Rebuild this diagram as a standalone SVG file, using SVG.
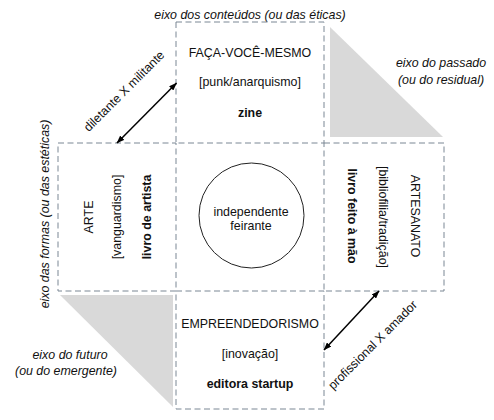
<svg xmlns="http://www.w3.org/2000/svg" width="494" height="420" viewBox="0 0 494 420">
<defs>
<style>
text{font-family:"Liberation Sans",Arial,sans-serif;font-size:12.4px;fill:#111;}
.b{font-weight:bold;}
.i{font-style:italic;}
.m{text-anchor:middle;}
.box{fill:none;stroke:#7a8794;stroke-width:1;stroke-dasharray:6 3.5;}
.tri{fill:#d9d9d9;stroke:none;}
.arr{stroke:#000;stroke-width:1.5;fill:none;marker-start:url(#ah);marker-end:url(#ah);}
</style>
<marker id="ah" viewBox="0 0 8 6" refX="7.5" refY="3" markerWidth="8" markerHeight="6" markerUnits="userSpaceOnUse" orient="auto-start-reverse">
<path d="M0,0 L8,3 L0,6 z" fill="#000"/>
</marker>
</defs>
<rect width="494" height="420" fill="#fff"/>

<g id="axes">
<polygon class="tri" points="330,27 330,137 443,137"/>
<polygon class="tri" points="60,295 173,295 173,407"/>
<text class="i m" x="250" y="18.5">eixo dos conteúdos (ou das éticas)</text>
<text class="i m" x="441" y="67">eixo do passado</text>
<text class="i m" x="441" y="84">(ou do residual)</text>
<text class="i m" x="70" y="358.5">eixo do futuro</text>
<text class="i m" x="66" y="374.5">(ou do emergente)</text>
<text class="i m" transform="translate(49,214) rotate(-90)">eixo das formas (ou das estéticas)</text>
</g>

<g id="node-top">
<rect class="box" x="176" y="22" width="148" height="121"/>
<text class="m" x="250" y="56.5">FAÇA-VOCÊ-MESMO</text>
<text class="m" x="250" y="86">[punk/anarquismo]</text>
<text class="m b" x="250" y="117">zine</text>
</g>

<g id="node-left">
<rect class="box" x="58" y="143" width="118" height="148"/>
<text class="m" transform="translate(92.5,217) rotate(-90)">ARTE</text>
<text class="m" transform="translate(121,217) rotate(-90)">[vanguardismo]</text>
<text class="m b" transform="translate(151,217) rotate(-90)">livro de artista</text>
</g>

<g id="node-right">
<rect class="box" x="324" y="143" width="120" height="148"/>
<text class="m b" transform="translate(347.5,216) rotate(90)">livro feito à mão</text>
<text class="m" transform="translate(379,217) rotate(90)">[bibliofilia/tradição]</text>
<text class="m" transform="translate(410.5,216) rotate(90)">ARTESANATO</text>
</g>

<g id="node-bottom">
<rect class="box" x="176" y="291" width="148" height="118"/>
<text class="m" x="250" y="327.5">EMPREENDEDORISMO</text>
<text class="m" x="250" y="357.5">[inovação]</text>
<text class="m b" x="250" y="387.5">editora startup</text>
</g>

<g id="node-center">
<circle cx="251.5" cy="215.5" r="52.5" fill="none" stroke="#222" stroke-width="1"/>
<text class="m" x="251" y="215.5">independente</text>
<text class="m" x="251" y="229.5">feirante</text>
</g>

<g id="connectors">
<line class="arr" x1="117" y1="143" x2="176.5" y2="83"/>
<text class="m" transform="translate(127,94) rotate(-45)">diletante X militante</text>
<line class="arr" x1="324" y1="350" x2="379" y2="291"/>
<text class="m" transform="translate(375.5,348) rotate(-45)">profissional X amador</text>
</g>
</svg>
